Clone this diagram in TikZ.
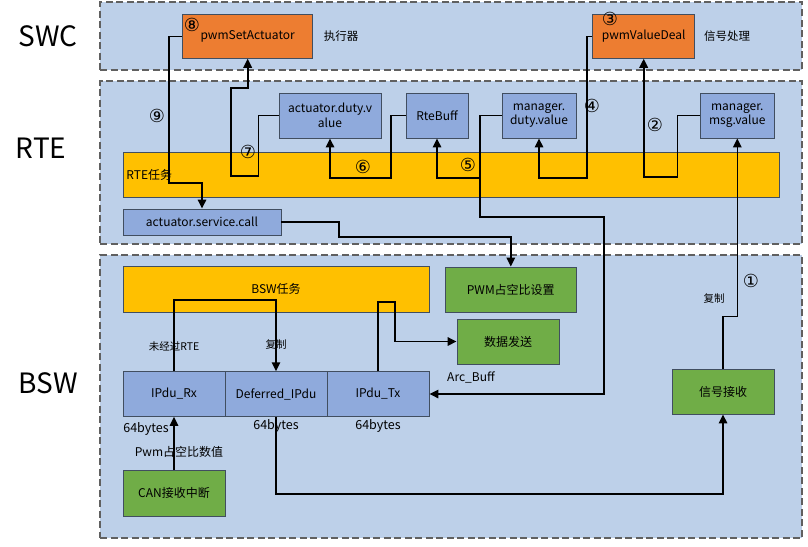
\documentclass[tikz,border=0pt]{standalone}
\usepackage{fontspec}
\setmainfont{Noto Sans CJK SC}
\newfontfamily\circfont{DejaVu Sans}
\usepackage{tikz}
\usetikzlibrary{shapes}
\usetikzlibrary{arrows.meta}
\usetikzlibrary{positioning}
\definecolor{layerBody}{RGB}{189,208,233}
\definecolor{layerBorder}{RGB}{96,96,96}
\definecolor{rteBody}{RGB}{143,170,220}
\definecolor{boxBorder}{RGB}{65,78,96}
\definecolor{swcBody}{RGB}{237,125,49}
\definecolor{taskBody}{RGB}{255,192,0}
\definecolor{bswBody}{RGB}{112,173,71}
\tikzstyle{layer} = [rectangle, fill=layerBody, draw=layerBorder, line width=1.2pt, dash pattern=on 7pt off 3.5pt]
\tikzstyle{layername} = [font=\fontsize{28}{30}\selectfont]
\tikzstyle{box} = [rectangle, draw=boxBorder, line width=0.9pt, align=center, inner sep=1pt,
        font=\fontsize{12}{14.5}\selectfont]
\tikzstyle{rtebox} = [box, fill=rteBody]
\tikzstyle{swcbox} = [box, fill=swcBody]
\tikzstyle{taskbar} = [box, fill=taskBody]
\tikzstyle{bswbox} = [box, fill=bswBody]
\tikzstyle{num} = [font=\circfont\fontsize{18}{19}\selectfont, inner sep=0pt]
\tikzstyle{comment} = [font=\fontsize{10.5}{12}\selectfont, inner sep=0pt]
\tikzstyle{size} = [font=\fontsize{12.5}{14}\selectfont, inner sep=0pt]
\tikzstyle{flow} = [line width=1.6pt, -{Triangle[length=9pt, width=8.5pt]}]
\begin{document}
\begin{tikzpicture}[x=1pt, y=-1pt]
            \useasboundingbox (0,0) rectangle (808,546);
            \node [layer, minimum width=702pt, minimum height=68pt] (swc) at (451,36) {};
            \node [layer, minimum width=702pt, minimum height=163pt] (rte) at (451,162.5) {};
            \node [layer, minimum width=702pt, minimum height=283pt] (bsw) at (451,396.5) {};
            \node [layername] (swcname) at (48,36) {SWC};
            \node [layername] (rtename) at (41,148) {RTE};
            \node [layername] (bswname) at (48,383) {BSW};

            \node [swcbox, minimum width=130pt, minimum height=44pt] (psa) at (247.7,36.3) {pwmSetActuator};
            \node [swcbox, minimum width=102pt, minimum height=44pt] (pvd) at (643.7,36.3) {pwmValueDeal};
            \node [comment, font=\fontsize{11.5}{12}\selectfont] (psanote) at (341,36) {执行器};
            \node [comment, font=\fontsize{11.5}{12}\selectfont] (pvdnote) at (727,36) {信号处理};

            \node [taskbar, minimum width=656.7pt, minimum height=45pt] (rtetask) at (451.3,174.5) {};
            \node [box, draw=none, anchor=west] (rtetaskname) at (125,175) {RTE任务};
            \node [rtebox, minimum width=158pt, minimum height=26pt] (service) at (202,222) {actuator.service.call};
            \node [rtebox, minimum width=102pt, minimum height=45pt] (adv) at (330,115.5) {actuator.duty.v\\alue};
            \node [rtebox, minimum width=62pt, minimum height=45pt] (rtebuff) at (437,115.5) {RteBuff};
            \node [rtebox, minimum width=74pt, minimum height=45pt] (mdv) at (539,115.5) {manager.\\duty.value};
            \node [rtebox, minimum width=73.3pt, minimum height=45pt] (mmv) at (737.3,115.5) {manager.\\msg.value};

            \node [taskbar, minimum width=306pt, minimum height=45.3pt] (bswtask) at (276,289.3) {BSW任务};
            \node [bswbox, minimum width=130.3pt, minimum height=45pt] (pwmset) at (510.8,289.5) {PWM占空比设置};
            \node [bswbox, minimum width=102pt, minimum height=45pt] (send) at (508,341.5) {数据发送};
            \node [rtebox, minimum width=102pt, minimum height=44.6pt] (rx) at (174,394) {IPdu\_Rx};
            \node [rtebox, minimum width=102pt, minimum height=44.6pt] (deferred) at (276,394) {Deferred\_IPdu};
            \node [rtebox, minimum width=102pt, minimum height=44.6pt] (tx) at (378,394) {IPdu\_Tx};
            \node [bswbox, minimum width=102pt, minimum height=45.3pt] (can) at (174,493.3) {CAN接收中断};
            \node [bswbox, minimum width=102pt, minimum height=45pt] (sigrecv) at (723,391.5) {信号接收};

            \node [size] (rxsize) at (146,429) {64bytes};
            \node [size] (deferredsize) at (276,426) {64bytes};
            \node [size] (txsize) at (378,426) {64bytes};
            \node [comment] (norte) at (174,347) {未经过RTE};
            \node [comment] (copyleft) at (276,345) {复制};
            \node [comment] (copyright) at (714,299) {复制};
            \node [comment, font=\fontsize{12}{13}\selectfont] (arcbuff) at (471,377) {Arc\_Buff};
            \node [comment, font=\fontsize{12}{13}\selectfont] (pwmvalue) at (179,452) {Pwm占空比数值};

            \node [num] (n1) at (751,281) {①};
            \node [num] (n2) at (655,125) {②};
            \node [num] (n3) at (610,19) {③};
            \node [num] (n4) at (592,106) {④};
            \node [num] (n5) at (468,165) {⑤};
            \node [num] (n6) at (363,167) {⑥};
            \node [num] (n7) at (248,152) {⑦};
            \node [num] (n8) at (192,25) {⑧};
            \node [num] (n9) at (157,116) {⑨};

            \coordinate (split) at (480,178);
            \draw [flow] (sigrecv.north) -- ++(0,-52) -| (mmv.south);
            \draw [flow] (mmv.west) -| (677.3,176.7) -| (pvd.south);
            \draw [flow] (pvd.west) -| (586.7,178) -| (mdv.south);
            \draw [flow] (mdv.west) -| (split) -| (rtebuff.south);
            \draw [flow] (split) |- (604,217) |- (tx.east);
            \draw [flow] (rtebuff.west) -| (390.7,178) -| (adv.south);
            \draw [flow] (adv.west) -| (258.3,176) -| (230.7,87.7) -| (psa.south);
            \draw [flow] (psa.west) -| (169,182.7) -| (service.north);
            \draw [flow] (service.east) -| (339,237) -| (pwmset.north);
            \draw [flow] (rx.north) -- ++(0,-71) -| (deferred.north);
            \draw [flow] (tx.north) -- ++(0,-69.4) -| (395,341.5) -- (send.west);
            \draw [flow] (can.north) -- (rx.south);
            \draw [flow] (deferred.south) -- ++(0,77) -| (sigrecv.south);
        \end{tikzpicture}
\end{document}
